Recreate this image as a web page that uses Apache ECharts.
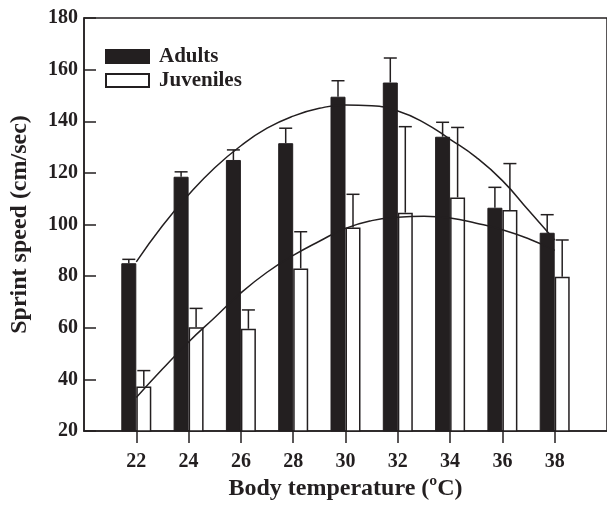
<!DOCTYPE html>
<html>
<head>
<meta charset="utf-8">
<script src="https://cdn.jsdelivr.net/npm/echarts@6/dist/echarts.min.js"></script>
<style>
html,body{margin:0;padding:0;background:#fff;}
#chart{width:607px;height:506px;}
</style>
</head>
<body>
<div id="chart"></div>
<script>
// ---- data ----
const axisTemps = [20,21,22,23,24,25,26,27,28,29,30,31,32,33,34,35,36,37,38,39,40];
const tickLabels = ['22','24','26','28','30','32','34','36','38'];
const temps = [22,24,26,28,30,32,34,36,38];
const adults = [85, 118.5, 125, 131.5, 149.5, 155, 134, 106.5, 96.8];
const adultsSE = [1.5, 1.9, 3.9, 5.8, 6.2, 9.5, 5.6, 7.9, 7.0];
const juveniles = [37.2, 60.2, 59.6, 83, 98.8, 104.6, 110.5, 105.6, 79.8];
const juvenilesSE = [6.2, 7.3, 7.3, 14.2, 12.9, 33.3, 27.1, 18.0, 14.2];
const curveTemps = [22,23,24,25,26,27,28,29,30,31,32,33,34,35,36,37,38];
const adultFit = [85.5, 99.5, 111.5, 122, 130.5, 137.3, 142, 145, 146.3, 146, 144, 139.5, 133, 126, 117, 105.5, 94];
const juvenileFit = [33, 44, 54.5, 64, 73.5, 81.5, 88, 93.5, 98.5, 101.5, 102.8, 103.2, 102.5, 100.5, 98, 94.5, 90];

const INK = '#231f20';
const FONT = '"Liberation Serif", "Times New Roman", serif';

const chart = echarts.init(document.getElementById('chart'), null, {renderer: 'canvas'});

function errRender(offset) {
  return function (params, api) {
    const top = api.coord([api.value(0), api.value(1)]);
    const cap = api.coord([api.value(0), api.value(2)]);
    const x = top[0] + offset;
    const style = {stroke: INK, lineWidth: 1.5};
    return {
      type: 'group',
      children: [
        {type: 'line', shape: {x1: x, y1: top[1], x2: x, y2: cap[1]}, style: style},
        {type: 'line', shape: {x1: x - 6.5, y1: cap[1], x2: x + 6.5, y2: cap[1]}, style: style}
      ]
    };
  };
}

const option = {
  animation: false,
  backgroundColor: '#fff',
  grid: {left: 80, top: 18, width: 533, height: 413, containLabel: false, show: true, borderColor: INK, borderWidth: 1.5, backgroundColor: 'transparent'},
  legend: {
    data: [{name: 'Adults', icon: 'rect'}, {name: 'Juveniles', icon: 'rect'}],
    orient: 'vertical',
    left: 100, top: 41,
    itemWidth: 43, itemHeight: 13, itemGap: 3,
    textStyle: {fontFamily: FONT, fontWeight: 'bold', fontSize: 21, color: INK, padding: [0,0,0,5]}
  },
  xAxis: {
    type: 'category',
    data: axisTemps.map(String),
    boundaryGap: false,
    name: 'Body temperature (ºC)',
    nameLocation: 'middle',
    nameGap: 45,
    nameTextStyle: {fontFamily: FONT, fontWeight: 'bold', fontSize: 24, color: INK},
    axisLine: {lineStyle: {color: INK, width: 1.5}},
    axisTick: {inside: false, length: 12, lineStyle: {color: INK, width: 1.5},
      interval: (i, v) => tickLabels.includes(v)},
    axisLabel: {fontFamily: FONT, fontWeight: 'bold', fontSize: 20, color: INK, margin: 21,
      interval: (i, v) => tickLabels.includes(v)},
    splitLine: {show: false}
  },
  yAxis: {
    type: 'value',
    min: 20, max: 180, interval: 20,
    name: 'Sprint speed (cm/sec)',
    nameLocation: 'middle',
    nameGap: 52,
    nameTextStyle: {fontFamily: FONT, fontWeight: 'bold', fontSize: 24, color: INK},
    axisLine: {show: true, lineStyle: {color: INK, width: 1.5}},
    axisTick: {show: true, inside: true, length: 12, lineStyle: {color: INK, width: 1.5}},
    axisLabel: {fontFamily: FONT, fontWeight: 'bold', fontSize: 20, color: INK, margin: 6},
    splitLine: {show: false}
  },
  series: [
    {
      name: 'Adults', type: 'bar', barWidth: 15, barGap: '0%',
      itemStyle: {color: INK, borderColor: INK, borderWidth: 1},
      data: temps.map((t, i) => [String(t), adults[i]]), z: 2
    },
    {
      name: 'Juveniles', type: 'bar', barWidth: 15, barGap: '0%',
      itemStyle: {color: '#ffffff', borderColor: INK, borderWidth: 1.5},
      data: temps.map((t, i) => [String(t), juveniles[i]]), z: 2
    },
    {
      name: 'Adults SE', type: 'custom', renderItem: errRender(-7.5),
      encode: {x: 0, y: [1, 2]}, z: 3,
      data: temps.map((t, i) => [String(t), adults[i], adults[i] + adultsSE[i]])
    },
    {
      name: 'Juveniles SE', type: 'custom', renderItem: errRender(7.5),
      encode: {x: 0, y: [1, 2]}, z: 3,
      data: temps.map((t, i) => [String(t), juveniles[i], juveniles[i] + juvenilesSE[i]])
    },
    {
      name: 'Adults fit', type: 'line', smooth: true, showSymbol: false, z: 4,
      lineStyle: {color: INK, width: 1.5},
      data: curveTemps.map((t, i) => [String(t), adultFit[i]])
    },
    {
      name: 'Juveniles fit', type: 'line', smooth: true, showSymbol: false, z: 4,
      lineStyle: {color: INK, width: 1.5},
      data: curveTemps.map((t, i) => [String(t), juvenileFit[i]])
    }
  ]
};
chart.setOption(option);
</script>
</body>
</html>
